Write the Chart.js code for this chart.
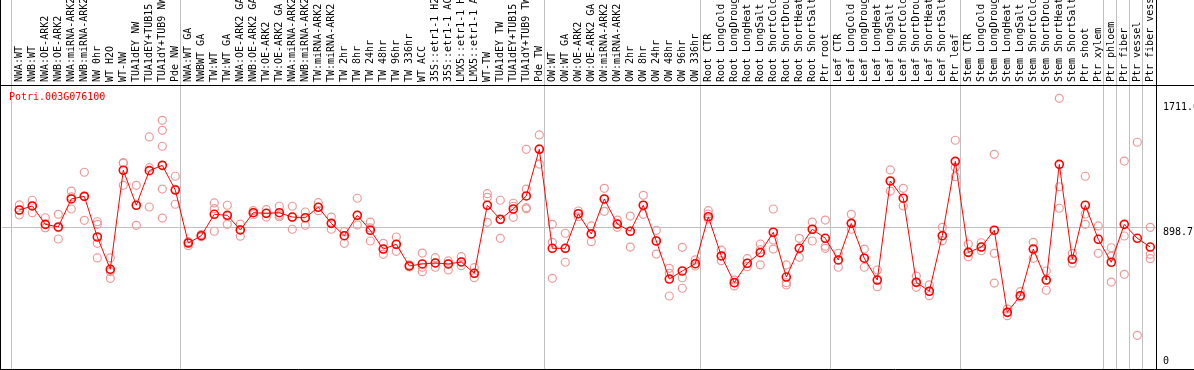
<!DOCTYPE html>
<html>
<head>
<meta charset="utf-8">
<script src="https://cdn.jsdelivr.net/npm/chart.js@4.4.1/dist/chart.umd.min.js"></script>
<style>
    body { margin: 0; background: #fff; }
    canvas { display: block; }
</style>
</head>
<body>
<canvas id="exprChart" width="1194" height="370"></canvas>
<script>
// Sample names (x axis)
const categories = [
    'NWA:WT', 'NWB:WT', 'NWA:OE-ARK2', 'NWB:OE-ARK2', 'NWA:miRNA-ARK2', 'NWB:miRNA-ARK2',
    'NW 0hr', 'WT H2O', 'WT-NW', 'TUA1dEY NW', 'TUA1dEY+TUB15', 'TUA1dY+TUB9 NW', 'Pde NW',
    'NWA:WT GA', 'NWBWT GA', 'TW:WT', 'TW:WT GA', 'NWA:OE-ARK2 GA', 'NWB:OE-ARK2 GA',
    'TW:OE-ARK2', 'TW:OE-ARK2 GA', 'NWA:miRNA-ARK2', 'NWB:miRNA-ARK2', 'TW:miRNA-ARK2',
    'TW:miRNA-ARK2', 'TW 2hr', 'TW 8hr', 'TW 24hr', 'TW 48hr', 'TW 96hr', 'TW 336hr', 'WT ACC',
    '35S::etr1-1 H2O', '35S::etr1-1 ACC', 'LMX5::etr1-1 H2O', 'LMX5::etr1-1 ACC', 'WT-TW',
    'TUA1dEY TW', 'TUA1dEY+TUB15 TW', 'TUA1dY+TUB9 TW', 'Pde TW',
    'OW:WT', 'OW:WT GA', 'OW:OE-ARK2', 'OW:OE-ARK2 GA', 'OW:miRNA-ARK2', 'OW:miRNA-ARK2',
    'OW 2hr', 'OW 8hr', 'OW 24hr', 'OW 48hr', 'OW 96hr', 'OW 336hr',
    'Root CTR', 'Root LongCold', 'Root LongDrought', 'Root LongHeat', 'Root LongSalt',
    'Root ShortCold', 'Root ShortDrought', 'Root ShortHeat', 'Root ShortSalt', 'Ptr root',
    'Leaf CTR', 'Leaf LongCold', 'Leaf LongDrought', 'Leaf LongHeat', 'Leaf LongSalt',
    'Leaf ShortCold', 'Leaf ShortDrought', 'Leaf ShortHeat', 'Leaf ShortSalt', 'Ptr leaf',
    'Stem CTR', 'Stem LongCold', 'Stem LongDrought', 'Stem LongHeat', 'Stem LongSalt',
    'Stem ShortCold', 'Stem ShortDrought', 'Stem ShortHeat', 'Stem ShortSalt', 'Ptr shoot',
    'Ptr xylem', 'Ptr phloem', 'Ptr fiber', 'Ptr vessel', 'Ptr fiber vessel'
];

// Mean expression per sample
const meanValues = [
    1022, 1050, 922, 904, 1099, 1117, 834, 609, 1299, 1055, 1296, 1333, 1161,
    792, 843, 992, 985, 883, 1003, 999, 1003, 973, 968, 1041, 929, 843, 985, 881,
    750, 783, 632, 646, 653, 646, 660, 581, 1055, 957, 1029, 1120, 1445,
    755, 755, 996, 855, 1099, 924, 874, 1055, 806, 541, 597, 648,
    975, 702, 516, 651, 725, 867, 555, 755, 888, 825,
    674, 929, 686, 534, 1224, 1104, 518, 456, 843, 1361,
    727, 764, 881, 309, 425, 750, 534, 1340, 679, 1055,
    818, 658, 922, 825, 764
];

// Individual replicates per sample
const replicateValues = [
    [1057, 1022, 987], [1090, 1050, 1003], [968, 899, 899], [992, 820, 899],
    [1154, 1029, 1113], [1285, 950, 1117], [940, 922, 790, 688], [688, 546, 593],
    [1352, 1194, 1349], [1194, 915, 1055], [1531, 1317, 1043],
    [1647, 1577, 1466, 1168, 966], [1257, 1062, 1166],
    [801, 773, 792], [835, 843, 851], [1071, 1031, 874], [1055, 922, 980],
    [924, 839, 885], [1017, 1003, 989], [1024, 973, 999], [1048, 975, 986],
    [1048, 888, 973], [1008, 915, 968], [1073, 1017, 1041], [973, 888, 929],
    [871, 790, 843], [1104, 918, 985], [938, 806, 897], [790, 713, 750],
    [834, 734, 783], [639, 625, 632], [722, 592, 623], [690, 623, 653],
    [667, 604, 646], [697, 634, 660], [620, 550, 581], [1136, 1110, 936],
    [1090, 825, 957], [1069, 971, 1048], [1445, 1168, 1038, 1030], [1545, 1342, 1448],
    [922, 797, 546], [860, 658, 755], [1015, 975, 996], [911, 801, 855],
    [1173, 1013, 1099], [952, 901, 924], [980, 764, 874], [1124, 992, 1055],
    [881, 715, 806], [616, 581, 423], [762, 550, 477], [674, 632, 648],
    [1017, 994, 960], [743, 669, 702], [534, 493, 516], [683, 627, 651],
    [785, 745, 640], [1029, 813, 750], [639, 516, 500], [825, 692, 755],
    [938, 806, 888], [952, 770, 755],
    [720, 623, 674], [992, 888, 929], [750, 623, 686], [604, 488, 534],
    [1301, 1154, 1224], [1173, 1050, 1104], [562, 483, 518], [500, 425, 456],
    [901, 808, 843], [1508, 1319, 1254],
    [785, 697, 727], [794, 738, 764], [1410, 720, 513], [332, 286, 309],
    [453, 414, 425], [797, 686, 750], [597, 463, 534], [1800, 1184, 1034],
    [720, 651, 679], [1257, 994, 922],
    [911, 720], [759, 700, 520], [1363, 841, 574], [1494, 149], [901, 713, 683]
];

// Right axis ticks
const yTickValues = [0, 898.7, 1772];
const yTickLabels = ['0', '898.7', '1711.6'];
const meanLineValue = 898.7;

// Group separators, in category units
const separators = [-0.66, 12.4, 40.4, 52.4, 62.4, 72.4, 83.4, 84.4, 85.4, 86.4];

const geneName = 'Potri.003G076100';
const monoFont = { family: "'DejaVu Sans Mono', 'Liberation Mono', monospace", size: 10 };

const meanPoints = meanValues.map((v, i) => ({ x: i, y: v }));
const repPoints = [];
replicateValues.forEach((reps, i) => {
    reps.forEach(v => repPoints.push({ x: i, y: v }));
});

// Separators, frame and gene name
const framePlugin = {
    id: 'frame',
    beforeDatasetsDraw(chart) {
        const { ctx, chartArea, scales } = chart;
        ctx.save();
        ctx.strokeStyle = '#c0c0c0';
        ctx.lineWidth = 1;
        separators.forEach(s => {
            const x = Math.round(scales.x.getPixelForValue(s)) + 0.5;
            ctx.beginPath();
            ctx.moveTo(x, 0);
            ctx.lineTo(x, chartArea.bottom);
            ctx.stroke();
        });
        ctx.restore();
    },
    afterDraw(chart) {
        const { ctx, chartArea, width } = chart;
        ctx.save();
        ctx.strokeStyle = '#000';
        ctx.lineWidth = 1;
        ctx.beginPath();
        ctx.moveTo(0.5, 0);
        ctx.lineTo(0.5, chartArea.bottom + 1);
        ctx.moveTo(chartArea.right + 0.5, 0);
        ctx.lineTo(chartArea.right + 0.5, chartArea.bottom + 1);
        ctx.moveTo(0, chartArea.top + 0.5);
        ctx.lineTo(width, chartArea.top + 0.5);
        ctx.moveTo(0, chartArea.bottom + 0.5);
        ctx.lineTo(width, chartArea.bottom + 0.5);
        ctx.stroke();

        ctx.fillStyle = '#ff0000';
        ctx.font = "10px 'DejaVu Sans Mono', 'Liberation Mono', monospace";
        ctx.textBaseline = 'top';
        ctx.fillText(geneName, chartArea.left + 7, chartArea.top + 7);
        ctx.restore();
    }
};

const ctx = document.getElementById('exprChart').getContext('2d');
new Chart(ctx, {
    type: 'line',
    data: {
        datasets: [
            {
                label: 'mean',
                data: meanPoints,
                borderColor: '#ff0000',
                backgroundColor: 'rgba(0,0,0,0)',
                borderWidth: 1,
                pointRadius: 4,
                pointBorderWidth: 1.6,
                pointBorderColor: '#ff0000',
                pointBackgroundColor: 'rgba(0,0,0,0)',
                tension: 0
            },
            {
                label: 'replicates',
                data: repPoints,
                showLine: false,
                pointRadius: 4,
                pointBorderWidth: 1.2,
                pointBorderColor: '#ee9a9a',
                pointBackgroundColor: 'rgba(0,0,0,0)'
            }
        ]
    },
    options: {
        responsive: false,
        animation: false,
        devicePixelRatio: 1,
        layout: { autoPadding: false, padding: { left: 2, right: 0, top: 0, bottom: 1 } },
        plugins: {
            legend: { display: false },
            tooltip: { enabled: false }
        },
        scales: {
            x: {
                type: 'linear',
                position: 'top',
                min: -1.331,
                max: 87.44,
                grid: { display: false, drawTicks: false },
                border: { display: false },
                afterBuildTicks: scale => {
                    scale.ticks = categories.map((c, i) => ({ value: i }));
                },
                afterFit: scale => {
                    scale.height = 85;
                    scale.paddingLeft = 0;
                    scale.paddingRight = 0;
                },
                ticks: {
                    autoSkip: false,
                    minRotation: 90,
                    maxRotation: 90,
                    padding: 3,
                    labelOffset: 12,
                    color: '#000',
                    font: monoFont,
                    callback: value => categories[value]
                }
            },
            y: {
                type: 'linear',
                position: 'right',
                min: -85.7,
                max: 1892.8,
                grid: {
                    drawTicks: false,
                    color: c => (c.tick && c.tick.value === meanLineValue) ? '#c0c0c0' : 'rgba(0,0,0,0)'
                },
                border: { display: false },
                afterBuildTicks: scale => {
                    scale.ticks = yTickValues.map(v => ({ value: v }));
                },
                afterFit: scale => {
                    scale.width = 38;
                    scale.paddingTop = 0;
                    scale.paddingBottom = 0;
                },
                ticks: {
                    padding: 7,
                    labelOffset: 5,
                    color: '#000',
                    font: monoFont,
                    callback: (value, index) => yTickLabels[index]
                }
            }
        }
    },
    plugins: [framePlugin]
});
</script>
</body>
</html>
